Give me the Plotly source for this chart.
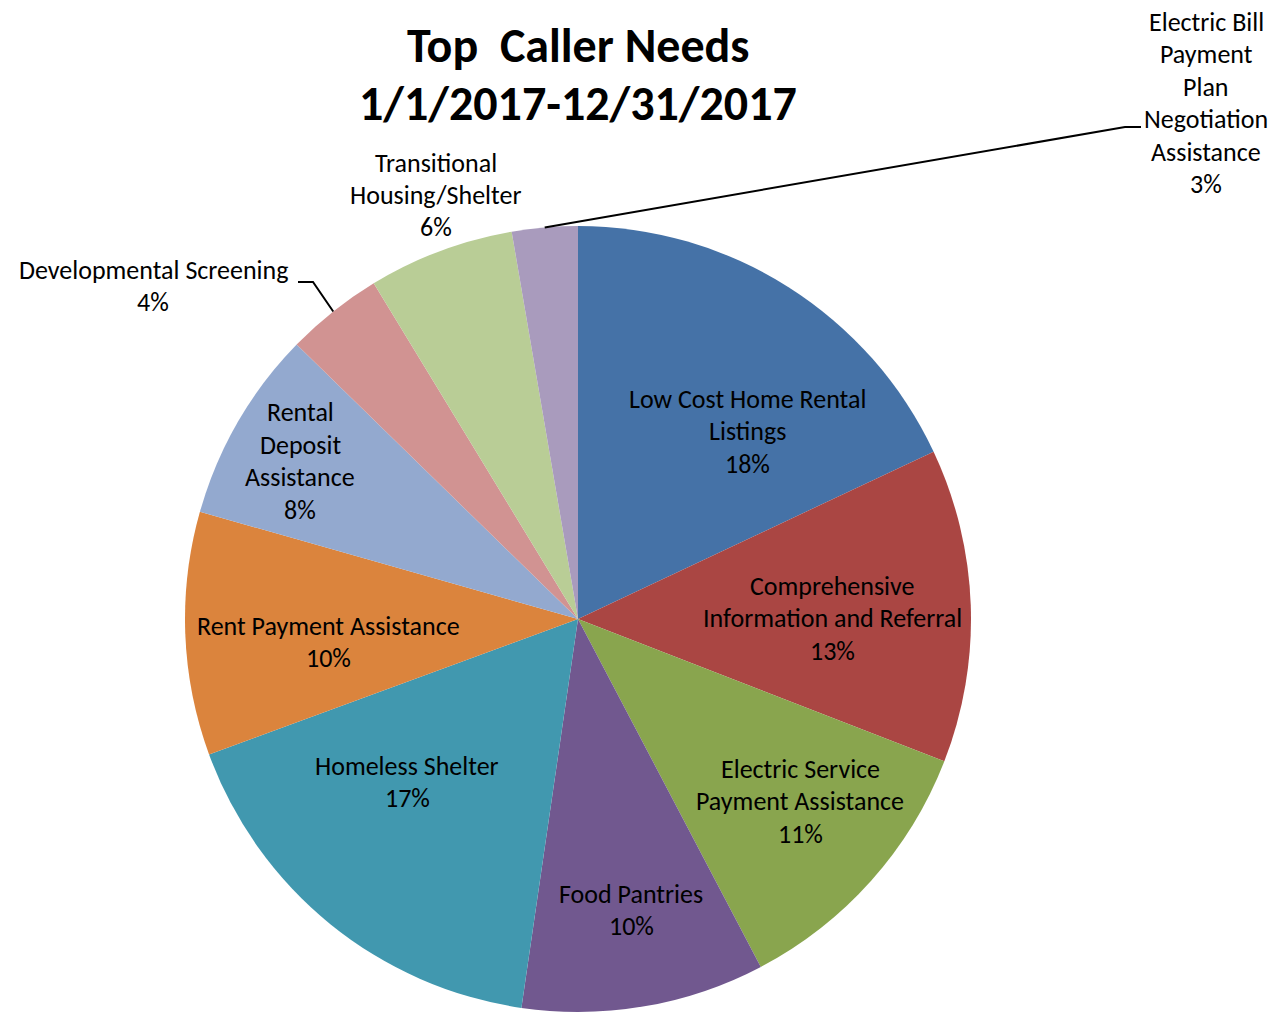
import math
import plotly.graph_objects as go

# ---- data ----
categories = [
    "Low Cost Home Rental Listings",
    "Comprehensive Information and Referral",
    "Electric Service Payment Assistance",
    "Food Pantries",
    "Homeless Shelter",
    "Rent Payment Assistance",
    "Rental Deposit Assistance",
    "Developmental Screening",
    "Transitional Housing/Shelter",
    "Electric Bill Payment Plan Negotiation Assistance",
]
values = [18.0, 12.9, 11.4, 10.0, 17.1, 10.0, 7.9, 4.0, 6.0, 2.7]
label_lines = [
    ["Low Cost Home Rental", "Listings"],
    ["Comprehensive", "Information and Referral"],
    ["Electric Service", "Payment Assistance"],
    ["Food Pantries"],
    ["Homeless Shelter"],
    ["Rent Payment Assistance"],
    ["Rental", "Deposit", "Assistance"],
    ["Developmental Screening"],
    ["Transitional", "Housing/Shelter"],
    ["Electric Bill", "Payment", "Plan", "Negotiation", "Assistance"],
]
colors = ["#4572A7", "#AA4643", "#89A54E", "#71588F", "#4198AF",
          "#DB843D", "#93A9CF", "#D19392", "#B9CD96", "#A99BBD"]
title_lines = ["Top&nbsp; Caller Needs", "1/1/2017-12/31/2017"]

# ---- layout geometry (pixels) ----
W, H = 1275, 1013
CX, CY, R = 578, 619, 393
# label block centers (pixels)
label_pos = [(747, 431), (832, 618), (800, 801), (631, 910), (407, 782),
             (328, 642), (300, 461), (153, 286), (436, 195), (1206, 103)]
LINE_H = 32.5
FONT = "Carlito, Lato, sans-serif"

def px(x):
    return x / W

def py(y):
    return 1 - y / H

fig = go.Figure(go.Pie(
    labels=categories,
    values=values,
    sort=False,
    direction="clockwise",
    rotation=0,
    marker=dict(colors=colors, line=dict(width=0)),
    textinfo="none",
    hoverinfo="skip",
    showlegend=False,
    domain=dict(x=[px(CX - R), px(CX + R)], y=[py(CY + R), py(CY - R)]),
))

total = sum(values)
annotations = []
for i, (lines, (lx, ly)) in enumerate(zip(label_lines, label_pos)):
    pct = f"{round(values[i] / total * 100):.0f}%"
    all_lines = lines + [pct]
    n = len(all_lines)
    for k, t in enumerate(all_lines):
        yk = ly + (k - (n - 1) / 2) * LINE_H
        annotations.append(dict(
            x=px(lx), y=py(yk), xref="paper", yref="paper",
            text=t, showarrow=False, xanchor="center", yanchor="middle",
            font=dict(family=FONT, size=26, color="#000000"),
        ))

for k, t in enumerate(title_lines):
    annotations.append(dict(
        x=px(578), y=py(46 + k * 57), xref="paper", yref="paper",
        text=f"<b>{t}</b>", showarrow=False, xanchor="center", yanchor="middle",
        font=dict(family=FONT, size=48, color="#000000"),
    ))

# leader lines from slice edge midpoints
cum = 0
mids = []
for v in values:
    mids.append((cum + v / 2) / total * 2 * math.pi)
    cum += v

def edge(i):
    a = mids[i]
    return CX + R * math.sin(a), CY - R * math.cos(a)

shapes = []
leaders = {9: [(1125, 127), (1141, 127)], 7: [(313, 282), (298, 282)]}
for i, pts in leaders.items():
    ex, ey = edge(i)
    path = [(ex, ey)] + pts
    d = "M " + " L ".join(f"{px(x)},{py(y)}" for x, y in path)
    shapes.append(dict(type="path", path=d, xref="paper", yref="paper",
                       line=dict(color="#000000", width=2)))

fig.update_layout(
    width=W, height=H,
    margin=dict(l=0, r=0, t=0, b=0),
    paper_bgcolor="white", plot_bgcolor="white",
    annotations=annotations, shapes=shapes,
)
fig.write_html("out.html",
               config={"displayModeBar": False},
               post_script="document.body.style.margin='0';document.body.style.overflow='hidden';")
